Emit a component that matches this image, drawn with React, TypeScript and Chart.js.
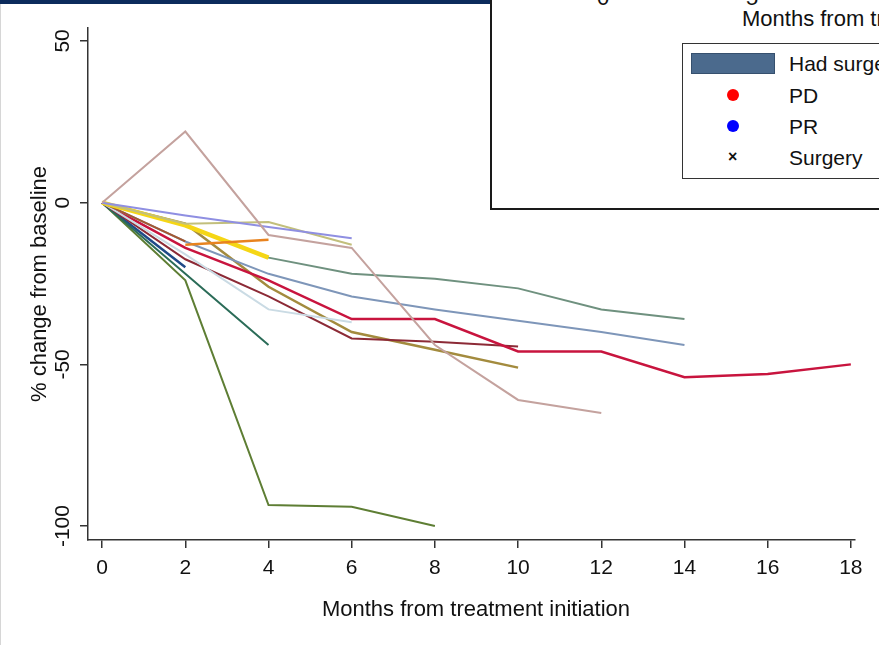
import React, { useEffect, useRef } from 'react';
import { Chart, registerables } from 'chart.js';

Chart.register(...registerables);

// ---- data ----
const months = [0, 2, 4, 6, 8, 10, 12, 14, 16, 18];
const xTickValues = [0, 2, 4, 6, 8, 10, 12, 14, 16, 18];
const yTickValues = [50, 0, -50, -100];

const rosy = [0, 22, -10, -14, -44, -61, -65];
const lavender = [0, -4, -7.5, -11];
const khaki = [0, -6.5, -6, -13];
const yellow = [0, -7, -17];
const orange = [null, -13, -11.5];
const sienna = [0, -12];
const grayGreen = [0, -7, -17, -22, -23.5, -26.5, -33, -36];
const blueGray = [0, -12, -22, -29, -33, -36.5, -40, -44];
const crimson = [0, -14, -24, -36, -36, -46, -46, -54, -53, -50];
const maroon = [0, -17.5, -29, -42, -43, -44.5];
const oliveBrown = [0, -6.5, -26, -40, -45.5, -51];
const lightBlue = [0, -16, -33, -37];
const teal = [0, -22, -44];
const navy = [0, -20];
const oliveGreen = [0, -24, -93.5, -94, -100];

// dataset 0 is drawn on top
const seriesList: { name: string; values: (number | null)[]; color: string; width: number }[] = [
  { name: 'orange', values: orange, color: '#e8831f', width: 2.5 },
  { name: 'rosy', values: rosy, color: '#c4a29e', width: 2 },
  { name: 'lavender', values: lavender, color: '#8f8fe2', width: 2 },
  { name: 'khaki', values: khaki, color: '#c2bf7c', width: 2 },
  { name: 'yellow', values: yellow, color: '#f5d615', width: 4.5 },
  { name: 'grayGreen', values: grayGreen, color: '#6f917f', width: 2 },
  { name: 'sienna', values: sienna, color: '#a5582f', width: 2 },
  { name: 'blueGray', values: blueGray, color: '#7e96b9', width: 2 },
  { name: 'lightBlue', values: lightBlue, color: '#cadbe4', width: 2 },
  { name: 'crimson', values: crimson, color: '#c8143e', width: 2.5 },
  { name: 'maroon', values: maroon, color: '#8c2a36', width: 2 },
  { name: 'oliveBrown', values: oliveBrown, color: '#a38b3e', width: 2.5 },
  { name: 'teal', values: teal, color: '#2b6c58', width: 2 },
  { name: 'navy', values: navy, color: '#1f4a88', width: 2.5 },
  { name: 'oliveGreen', values: oliveGreen, color: '#5e7e34', width: 2 },
];

const FONT = '"Liberation Sans", Arial, Helvetica, sans-serif';

const textPlugin = {
  id: 'customText',
  afterDraw(chart: any) {
    const ctx = chart.ctx as CanvasRenderingContext2D;
    const xs = chart.scales.x;
    const ys = chart.scales.y;
    const area = chart.chartArea;
    ctx.save();
    ctx.fillStyle = '#111';
    ctx.textAlign = 'center';
    ctx.textBaseline = 'middle';
    ctx.font = `21px ${FONT}`;
    for (const v of xTickValues) {
      ctx.fillText(String(v), xs.getPixelForValue(v), 568);
    }
    for (const v of yTickValues) {
      ctx.save();
      ctx.translate(63, ys.getPixelForValue(v));
      ctx.rotate(-Math.PI / 2);
      ctx.fillText(String(v), 0, 0);
      ctx.restore();
    }
    ctx.font = `22px ${FONT}`;
    ctx.fillText('Months from treatment initiation', 476, 610);
    ctx.save();
    ctx.translate(40, (area.top + area.bottom) / 2);
    ctx.rotate(-Math.PI / 2);
    ctx.fillText('% change from baseline', 0, 0);
    ctx.restore();
    ctx.restore();
  },
};

export default function App() {
  const canvasRef = useRef<HTMLCanvasElement | null>(null);

  useEffect(() => {
    if (!canvasRef.current) return;
    const chart = new Chart(canvasRef.current, {
      type: 'line',
      data: {
        datasets: seriesList.map((s) => ({
          label: s.name,
          data: s.values
            .map((v, i) => ({ x: months[i], y: v }))
            .filter((p) => p.y !== null) as any,
          borderColor: s.color,
          backgroundColor: s.color,
          borderWidth: s.width,
          pointRadius: 0,
          tension: 0,
          fill: false,
        })),
      },
      options: {
        animation: false,
        responsive: false,
        devicePixelRatio: 1,
        layout: { padding: { top: 28, right: 24, left: 0, bottom: 0 } },
        plugins: {
          legend: { display: false },
          tooltip: { enabled: false },
        },
        scales: {
          x: {
            type: 'linear',
            min: -0.34,
            max: 18.1,
            afterBuildTicks: (s: any) => {
              s.ticks = xTickValues.map((v) => ({ value: v }));
            },
            afterFit: (s: any) => {
              s.height = 105;
            },
            ticks: { color: 'rgba(0,0,0,0)', font: { size: 21 }, autoSkip: false, maxRotation: 0 },
            grid: {
              display: true,
              drawOnChartArea: false,
              drawTicks: true,
              tickLength: 8,
              color: '#333',
              lineWidth: 1.5,
            },
            border: { display: true, color: '#333', width: 1.5 },
          },
          y: {
            type: 'linear',
            min: -104.3,
            max: 54,
            afterBuildTicks: (s: any) => {
              s.ticks = yTickValues.map((v) => ({ value: v }));
            },
            afterFit: (s: any) => {
              s.width = 88;
            },
            ticks: { color: 'rgba(0,0,0,0)', font: { size: 21 }, autoSkip: false },
            grid: {
              display: true,
              drawOnChartArea: false,
              drawTicks: true,
              tickLength: 8,
              color: '#333',
              lineWidth: 1.5,
            },
            border: { display: true, color: '#333', width: 1.5 },
          },
        },
      },
      plugins: [textPlugin],
    });
    return () => chart.destroy();
  }, []);

  const txt: React.CSSProperties = {
    position: 'absolute',
    fontFamily: FONT,
    fontSize: 21,
    color: '#111',
    lineHeight: '24px',
    whiteSpace: 'nowrap',
  };

  return (
    <div
      style={{
        position: 'absolute',
        left: 0,
        top: 0,
        width: 879,
        height: 645,
        overflow: 'hidden',
        background: '#fff',
      }}
    >
      <canvas ref={canvasRef} width={879} height={645} style={{ position: 'absolute', left: 0, top: 0 }} />
      <div style={{ position: 'absolute', left: 0, top: 0, width: 491, height: 4, background: '#0c2b5c' }} />
      <div style={{ position: 'absolute', left: 0, top: 4, width: 1, height: 641, background: '#d6d6d6' }} />
      {/* inset box */}
      <div
        style={{
          position: 'absolute',
          left: 490,
          top: -4,
          width: 420,
          height: 214,
          boxSizing: 'border-box',
          border: '2px solid #1a1a1a',
          background: '#fff',
        }}
      />
      <div style={{ ...txt, fontSize: 22, left: 597, top: -14 }}>0</div>
      <div style={{ ...txt, fontSize: 22, left: 746, top: -14 }}>5</div>
      <div style={{ ...txt, fontSize: 22, left: 742, top: 7 }}>Months from treatment initiation</div>
      {/* legend */}
      <div
        style={{
          position: 'absolute',
          left: 682,
          top: 43,
          width: 230,
          height: 136,
          boxSizing: 'border-box',
          border: '1px solid #333',
          background: '#fff',
        }}
      />
      <div
        style={{
          position: 'absolute',
          left: 691,
          top: 53,
          width: 84,
          height: 21,
          boxSizing: 'border-box',
          background: '#4b6a8d',
          border: '1px solid #36506e',
        }}
      />
      <div style={{ position: 'absolute', left: 727, top: 89, width: 12, height: 12, borderRadius: 6, background: '#ff0000' }} />
      <div style={{ position: 'absolute', left: 727, top: 120, width: 12, height: 12, borderRadius: 6, background: '#0000ff' }} />
      <div style={{ ...txt, fontSize: 16, left: 728, top: 145, fontWeight: 'bold' }}>×</div>
      <div style={{ ...txt, left: 789, top: 52 }}>Had surgery</div>
      <div style={{ ...txt, left: 789, top: 84 }}>PD</div>
      <div style={{ ...txt, left: 789, top: 115 }}>PR</div>
      <div style={{ ...txt, left: 789, top: 146 }}>Surgery</div>
    </div>
  );
}
